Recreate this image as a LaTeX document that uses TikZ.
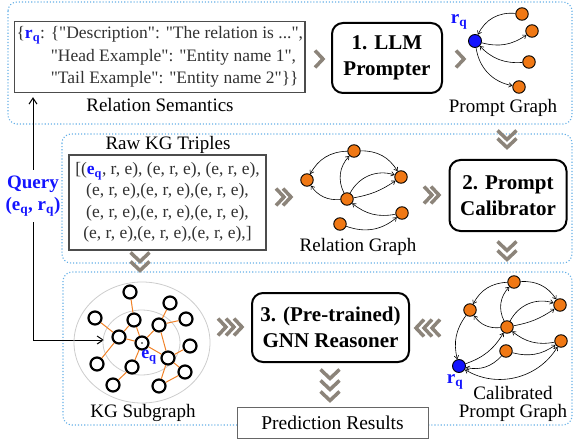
\documentclass[tikz,border=0pt]{standalone}
\usepackage{fontspec}
\setmainfont{Liberation Serif}[Ligatures=TeXOff]
\usetikzlibrary{arrows.meta}
\definecolor{qblue}{RGB}{20,20,255}
\definecolor{regblue}{RGB}{100,175,230}
\definecolor{chevgray}{RGB}{140,132,122}
\definecolor{nodeorange}{RGB}{240,120,20}
\definecolor{edgeorange}{RGB}{240,130,40}
\definecolor{txtgray}{RGB}{50,50,50}
\definecolor{ringgray}{RGB}{205,205,205}
\tikzset{
  chevr/.pic={\draw[chev] (-4,8.5) -- (4,0) -- (-4,-8.5);},
  chevl/.pic={\draw[chev] (4,8.5) -- (-4,0) -- (4,-8.5);},
  chevd/.pic={\draw[chev] (-9.5,4.5) -- (0,-4.5) -- (9.5,4.5);},
}
\begin{document}
\begin{tikzpicture}[x=1pt,y=1pt,
  region/.style={draw=regblue, dotted, line width=1.1pt, rounded corners=9pt},
  module/.style={draw, line width=2pt, rounded corners=11pt, align=center, font=\bfseries\fontsize{21}{26}\selectfont, inner sep=0pt},
  txtbox/.style={draw=black!70, line width=1.2pt, align=center, text=txtgray, inner sep=2pt, font=\fontsize{17.5}{21.5}\selectfont},
  lab/.style={font=\fontsize{19}{18.5}\selectfont, inner sep=0pt, align=center},
  qlab/.style={font=\bfseries\fontsize{19}{22}\selectfont, text=qblue, inner sep=0pt, align=center},
  onode/.style={circle, draw, fill=nodeorange, line width=0.9pt, minimum size=12.5pt, inner sep=0pt},
  bnode/.style={circle, draw, fill=qblue, line width=0.9pt, minimum size=13pt, inner sep=0pt},
  wnode/.style={circle, draw, fill=white, line width=2.2pt, minimum size=13pt, inner sep=0pt},
  garr/.style={-{Straight Barb[length=3.2pt,width=4.5pt]}, line width=0.6pt},
  garrb/.style={{Straight Barb[length=3.2pt,width=4.5pt]}-{Straight Barb[length=3.2pt,width=4.5pt]}, line width=0.6pt},
  kge/.style={draw=edgeorange, line width=1pt},
  qarr/.style={-{Straight Barb[length=6pt,width=8pt]}, line width=1pt},
  chev/.style={draw=chevgray, line width=3.5pt},
]
\useasboundingbox (0,0) rectangle (573,-441);

% regions
\draw[region] (8,-2) rectangle (572,-124);
\draw[region] (62,-134) rectangle (572,-263);
\draw[region] (63,-272) rectangle (572,-425);

% ---- top row
\node[txtbox, anchor=north west, minimum width=286pt, minimum height=71pt, align=left, font=\fontsize{17.5}{22.5}\selectfont] (sem) at (14,-21)
 {\{\textcolor{qblue}{\textbf{r}\textsubscript{\textbf{q}}}: \{"Description": "The relation is ...",\\
  \hphantom{\{\textbf{r}\textsubscript{\textbf{q}}: }"Head Example": "Entity name 1",\\
  \hphantom{\{\textbf{r}\textsubscript{\textbf{q}}: }"Tail Example": "Entity name 2"\}\}};
\node[lab] (semlab) at (160,-105) {Relation Semantics};

\node[module, minimum width=110pt, minimum height=70pt] (llm) at (387,-58) {1. LLM\\Prompter};
\pic at (319,-59) {chevr};
\pic at (460,-59) {chevr};

\node[bnode] (pr) at (475,-41) {};
\node[onode] (p1) at (522,-14) {};
\node[onode] (p2) at (532,-31) {};
\node[onode] (p3) at (529,-62) {};
\node[onode] (p4) at (519,-87) {};
\node[qlab] (prl) at (459,-22) {r\textsubscript{q}};
\draw[garr] (p1) to[bend right=35] (pr);
\draw[garr] (pr) to[bend right=25] (p2);
\draw[garr] (p3) to[bend left=25] (pr);
\draw[garr] (pr) to[bend right=35] (p4);
\node[lab] (pglab) at (503,-108) {Prompt Graph};

% ---- middle row
\node[lab] (rawlab) at (168,-145) {Raw KG Triples};
\node[txtbox, minimum width=197pt, minimum height=95pt] (raw) at (167.5,-202.5)
 {[(\textcolor{qblue}{\textbf{e}\textsubscript{\textbf{q}}}, r, e), (e, r, e), (e, r, e),\\
  (e, r, e),(e, r, e),(e, r, e),\\
  (e, r, e),(e, r, e),(e, r, e),\\
  (e, r, e),(e, r, e),(e, r, e),]};

\node[qlab, inner ysep=6pt] (query) at (33,-196) {Query\\(e\textsubscript{q}, r\textsubscript{q})};
\draw[qarr, shorten >=4pt] (query.north) -- (query.north |- sem.south);
\coordinate (qin) at (104,-340);
\draw[qarr] (query.south) |- (qin);

\pic at (280,-197) {chevr};
\pic at (287,-197) {chevr};

\node[onode] (A) at (354,-151) {};
\node[onode] (B) at (307,-180) {};
\node[onode] (C) at (401,-177) {};
\node[onode] (D) at (347,-199) {};
\node[onode] (E) at (402,-213) {};
\node[onode] (F) at (340,-224) {};
\draw[garr] (A) to[bend right=30] (B);
\draw[garr] (A) to[bend left=30] (C);
\draw[garr] (D) to[bend left=35] (A);
\draw[garr] (D) to[bend left=40] (C);
\draw[garr] (D) to[bend right=12] (C);
\draw[garr] (D) to[bend left=30] (B);
\draw[garr] (E) to[bend left=25] (D);
\draw[garr] (F) to[bend right=30] (E);
\node[lab] (rglab) at (358,-247) {Relation Graph};

\pic at (428,-195) {chevr};
\pic at (435,-195) {chevr};

\node[module, minimum width=117pt, minimum height=71pt] (cal) at (508,-195.5) {2. Prompt\\Calibrator};
\pic at (507,-135) {chevd};
\pic at (507,-143) {chevd};
\pic at (507,-246) {chevd};
\pic at (507,-255) {chevd};
\pic at (140,-257) {chevd};
\pic at (140,-266) {chevd};

% ---- bottom row
\draw[ringgray, line width=0.8pt] (142,-342.5) ellipse [x radius=68, y radius=60.5];
\draw[ringgray, line width=0.8pt] (141.5,-342.5) ellipse [x radius=38.5, y radius=32.5];

\node[wnode] (n1) at (130,-292) {};
\node[wnode] (n2) at (170,-303) {};
\node[wnode] (n3) at (95,-318) {};
\node[wnode] (n4) at (134,-320) {};
\node[wnode] (n5) at (186,-319) {};
\node[wnode] (n6) at (159,-325) {};
\node[wnode] (n7) at (119,-337) {};
\node[wnode] (eq) at (142,-343) {};
\node[wnode] (n9) at (190,-346) {};
\node[wnode] (n10) at (168,-358) {};
\node[wnode] (n11) at (97,-364) {};
\node[wnode] (n12) at (132,-367) {};
\node[wnode] (n13) at (185,-372) {};
\node[wnode] (n14) at (113,-385) {};
\node[wnode] (n15) at (159,-386) {};
\fill (eq) circle (0.9);
\draw[kge] (n1) -- (n4);
\draw[kge] (n2) -- (n6);
\draw[kge] (n3) -- (n7);
\draw[kge] (n4) -- (n7);
\draw[kge] (n4) -- (eq);
\draw[kge] (n6) -- (eq);
\draw[kge] (n6) -- (n5);
\draw[kge] (n6) -- (n10);
\draw[kge] (n7) -- (eq);
\draw[kge] (n7) -- (n11);
\draw[kge] (eq) -- (n10);
\draw[kge] (eq) -- (n12);
\draw[kge] (n10) -- (n9);
\draw[kge] (n10) -- (n13);
\draw[kge] (n10) -- (n15);
\draw[kge] (n13) -- (n15);
\draw[kge] (n12) -- (n14);
\node[qlab, font=\bfseries\fontsize{18}{20}\selectfont] (eql) at (149,-357) {e\textsubscript{q}};
\node[lab] (kglab) at (143,-413) {KG Subgraph};

\pic at (222,-327) {chevr};
\pic at (230,-327) {chevr};
\pic at (238,-327) {chevr};

\node[module, minimum width=157pt, minimum height=69pt] (gnn) at (330.5,-327.5) {3. (Pre-trained)\\GNN Reasoner};

\pic at (420,-328) {chevl};
\pic at (428,-328) {chevl};
\pic at (436,-328) {chevl};

\pic at (330,-374) {chevd};
\pic at (330,-385) {chevd};
\pic at (330,-396) {chevd};

\node[draw=black!60, line width=1pt, fill=white, minimum width=191pt, minimum height=31pt, inner sep=0pt, font=\fontsize{19.5}{21}\selectfont] (pred) at (332.5,-422.5) {Prediction Results};

\node[onode] (T) at (514,-282) {};
\node[onode] (L) at (470,-310) {};
\node[onode] (R) at (560,-305) {};
\node[onode] (Cc) at (507,-327) {};
\node[onode] (RL) at (561,-341) {};
\node[onode] (M) at (506,-351) {};
\node[bnode] (rq) at (459,-366) {};
\draw[garr] (T) to[bend right=30] (L);
\draw[garr] (T) to[bend left=30] (R);
\draw[garr] (Cc) to[bend left=35] (T);
\draw[garr] (Cc) to[bend left=40] (R);
\draw[garr] (Cc) to[bend right=12] (R);
\draw[garr] (Cc) to[bend left=30] (L);
\draw[garr] (RL) to[bend left=25] (Cc);
\draw[garr] (L) to[bend right=25] (rq);
\draw[garr] (rq) to[bend right=20] (Cc);
\draw[garr] (M) to[bend left=30] (rq);
\draw[garr] (M) to[bend right=25] (RL);
\draw[garrb] (rq) to[bend right=45] (RL);
\node[qlab] (rql) at (455,-382) {r\textsubscript{q}};
\node[lab] (cplab) at (513,-404) {Calibrated\\Prompt Graph};
\end{tikzpicture}
\end{document}
